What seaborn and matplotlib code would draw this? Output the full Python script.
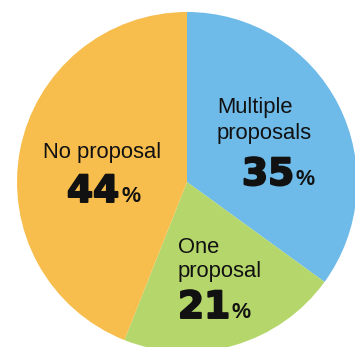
import matplotlib
matplotlib.use("Agg")
import matplotlib.pyplot as plt
import matplotlib.patheffects as pe
import seaborn as sns

categories = ["Multiple\nproposals", "One\nproposal", "No proposal"]
shares = [35, 21, 44]
colors = ["#6EBAE8", "#B5D66B", "#F7BE4E"]

sns.set_theme(style="white")

W, H = 355, 347
fig = plt.figure(figsize=(W / 100, H / 100), dpi=100)
ax = fig.add_axes([0, 0, 1, 1])

# y axis is flipped below, so -90 points up and "counterclock" runs clockwise
ax.pie(shares, colors=colors, startangle=-90, counterclock=True,
       center=(187, 182), radius=170, frame=True,
       wedgeprops=dict(linewidth=0))
ax.set_xlim(0, W)
ax.set_ylim(H, 0)
ax.set_aspect("equal")
ax.axis("off")

ink = "#111111"
label_font = dict(family=["Liberation Sans", "DejaVu Sans"], fontsize=15.8,
                  color=ink)
num_font = dict(family=["DejaVu Sans"], fontsize=27, fontweight="bold",
                color=ink)
pct_font = dict(family=["Liberation Sans", "DejaVu Sans"], fontsize=15.5,
                fontweight="bold", color=ink)
heavy = [pe.withStroke(linewidth=1.4, foreground=ink)]

# (label lines with baselines, label x, number x, number baseline, % x)
layout = [
    ([("Multiple", 113), ("proposals", 139)], 217, 242, 185, 295),
    ([("One", 253), ("proposal", 277)], 178, 178, 318, 231),
    ([("No proposal", 158)], 43, 67, 202, 121),
]

for cat, val, (lines, lx, nx, nb, px) in zip(categories, shares, layout):
    for txt, yb in lines:
        ax.text(lx, yb, txt, ha="left", va="baseline", **label_font)
    ax.text(nx, nb, f"{val}", ha="left", va="baseline",
            path_effects=heavy, **num_font)
    ax.text(px, nb, "%", ha="left", va="baseline", **pct_font)

fig.savefig("out.png", dpi=100, facecolor="white")
